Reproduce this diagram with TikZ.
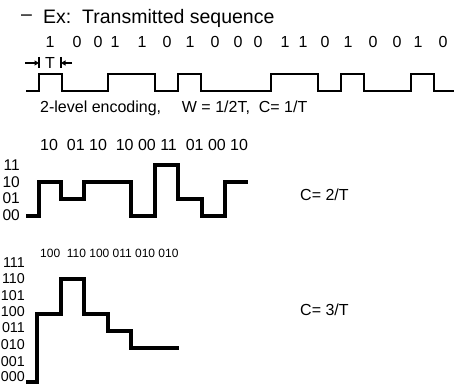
\documentclass[tikz,border=0pt]{standalone}
\usepackage{fontspec}
\setmainfont{Liberation Sans}
\usetikzlibrary{arrows.meta,positioning}

\begin{document}
\begin{tikzpicture}[
  x=1pt, y=-1pt,
  big/.style={inner sep=0pt, font=\fontsize{19.5}{20}\selectfont},
  txt/.style={inner sep=0pt, font=\fontsize{16}{16}\selectfont},
  small/.style={inner sep=0pt, font=\fontsize{12}{12}\selectfont},
  lvl/.style={inner sep=0pt, anchor=east, font=\fontsize{15.5}{15}\selectfont},
  lvlthree/.style={lvl, font=\fontsize{14.3}{15}\selectfont},
  wave/.style={line width=3.3pt, line join=miter},
  wavethin/.style={line width=2.6pt, line join=miter},
  dimarrow/.style={-{Triangle[length=4.5pt,width=5pt]}, line width=1.2pt},
  tick/.style={line width=1.2pt},
]
\useasboundingbox (0,0) rectangle (454,385);

% title and transmitted bits
\node[big, anchor=west] (dash) at (21,18) {--};
\node[big, anchor=west] (title) at (43,18) {Ex:\ \ Transmitted sequence};
\foreach \d/\x [count=\i] in {1/50,0/77,0/98,1/115,1/142,0/167,1/190,0/215,0/238,0/258,1/285,1/303,0/325,1/348,0/373,0/397,1/418,0/443}
  \node[txt] (bit\i) at (\x,42) {\d};

% bit period marker
\coordinate (tl) at (39,57);
\coordinate (tr) at (61,57);
\node[txt] (tlabel) at (50,63) {T};
\draw[tick] (tl) -- ++(0,11);
\draw[tick] (tr) -- ++(0,11);
\draw[dimarrow] (25,63) -- (tl |- tlabel);
\draw[dimarrow] (72,63) -- (tr |- tlabel);

% 2-level waveform
\draw[wavethin] (26,91) -- (39,91) -- (39,74) -- (62,74) -- (62,91) -- (108,91) -- (108,74)
  -- (155,74) -- (155,91) -- (178,91) -- (178,74) -- (201,74) -- (201,91) -- (271,91)
  -- (271,74) -- (318,74) -- (318,91) -- (341,91) -- (341,74) -- (364,74) -- (364,91)
  -- (411,91) -- (411,74) -- (434,74) -- (434,91) -- (456,91);
\node[txt, anchor=west] (enc) at (40,108) {2-level encoding,\hspace{1.3em}W = 1/2T,\ \ C= 1/T};

% 4-level waveform
\node[txt, anchor=west] (sym2) at (40,145) {10\ \ 01 10\ \ 10 00 11\ \ 01 00 10};
\node[lvl] (l11) at (20,165) {11};
\node[lvl] (l10) at (20,182) {10};
\node[lvl] (l01) at (20,198) {01};
\node[lvl] (l00) at (20,215) {00};
\draw[wave] (26,216) -- (39,216) -- (39,182) -- (61,182) -- (61,199) -- (84,199) -- (84,182)
  -- (131,182) -- (131,216) -- (155,216) -- (155,165) -- (178,165) -- (178,199)
  -- (202,199) -- (202,216) -- (225,216) -- (225,182) -- (248,182);
\node[txt, anchor=west] (c2) at (300,195) {C= 2/T};

% 8-level waveform
\node[small, anchor=west] (sym3) at (40,253) {100\ \ 110 100 011 010 010};
\node[lvlthree] (l111) at (25,263) {111};
\node[lvlthree] (l110) at (25,279) {110};
\node[lvlthree] (l101) at (25,296) {101};
\node[lvlthree] (l100) at (25,312) {100};
\node[lvlthree] (l011) at (25,328) {011};
\node[lvlthree] (l010) at (25,345) {010};
\node[lvlthree] (l001) at (25,362) {001};
\node[lvlthree] (l000) at (25,377) {000};
\draw[wave] (26,382) -- (37,382) -- (37,314) -- (61,314) -- (61,279) -- (84,279) -- (84,314)
  -- (108,314) -- (108,331) -- (131,331) -- (131,348) -- (179,348);
\node[txt, anchor=west] (c3) at (300,310) {C= 3/T};
\end{tikzpicture}
\end{document}
